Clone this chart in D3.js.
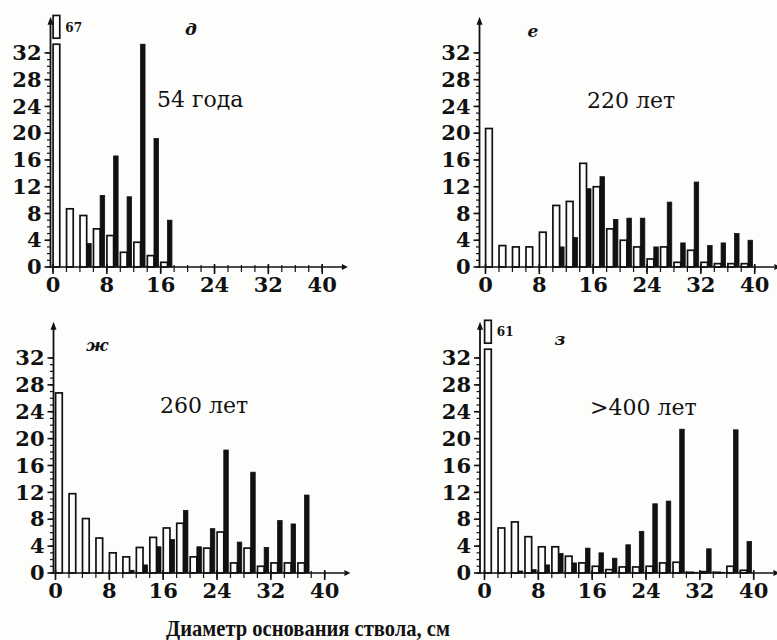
<!DOCTYPE html>
<html>
<head>
<meta charset="utf-8">
<script src="https://cdnjs.cloudflare.com/ajax/libs/d3/7.8.5/d3.min.js"></script>
<style>
  body { margin: 0; background: #fdfdfc; }
  svg { display: block; }
  .tick-label { font-family: "DejaVu Serif", serif; font-weight: bold; font-size: 21px; fill: #111; }
  .age-label { font-family: "DejaVu Serif", serif; font-size: 22px; fill: #111; }
  .panel-letter { font-family: "DejaVu Serif", serif; font-style: italic; font-weight: bold; font-size: 17px; fill: #111; }
  .over-label { font-family: "DejaVu Serif", serif; font-weight: bold; font-size: 12px; fill: #111; }
  .x-title { font-family: "Liberation Serif", serif; font-weight: bold; font-size: 23px; fill: #111; }
</style>
</head>
<body>
<svg id="chart" width="777" height="640"></svg>
<script>
// diameter classes, cm (start of each 2 cm class)
var binStarts = d3.range(0, 40, 2);
var yTickValues = [0, 4, 8, 12, 16, 20, 24, 28, 32];
var xTickValues = [0, 8, 16, 24, 32, 40];

var panelLetters = ['д', 'е', 'ж', 'з'];
var panelAges = ['54 года', '220 лет', '260 лет', '>400 лет'];
var xTitle = 'Диаметр основания ствола, см';

// number of trees per class: open bars (white) and filled bars (black)
var open54 = [67, 8.7, 7.7, 5.7, 4.7, 2.2, 3.7, 1.7, 0.7, 0, 0, 0, 0, 0, 0, 0, 0, 0, 0, 0];
var filled54 = [0, 0, 3.5, 10.7, 16.6, 10.5, 33.5, 19.2, 7, 0, 0, 0, 0, 0, 0, 0, 0, 0, 0, 0];

var open220 = [20.7, 3.2, 3, 3, 5.2, 9.2, 9.8, 15.5, 12, 5.7, 4, 3, 1.2, 3, 0.7, 2.5, 0.7, 0.5, 0.5, 0.5];
var filled220 = [0, 0, 0, 0, 0, 3, 4.4, 11.7, 13.5, 7.1, 7.3, 7.3, 3, 9.7, 3.6, 12.7, 3.2, 3.6, 5, 4];

var open260 = [26.8, 11.8, 8.1, 5.2, 3, 2.4, 3.8, 5.3, 6.7, 7.4, 2.4, 3.7, 6.1, 1.5, 3.7, 1, 1.5, 1.5, 1.5, 0];
var filled260 = [0, 0, 0, 0, 0, 0.4, 1.2, 3.9, 5, 9.3, 3.9, 6.6, 18.3, 4.6, 15, 3.8, 7.8, 7.3, 11.6, 0];

var open400 = [61, 6.7, 7.6, 5.4, 3.9, 3.9, 2.5, 1.5, 1, 0.5, 0.9, 0.9, 1, 1.5, 1.6, 0.1, 0.2, 0.1, 1, 0.4];
var filled400 = [0, 0, 0.3, 0.5, 1.2, 2.9, 1.5, 3.7, 3, 2.2, 4.2, 6.2, 10.3, 10.7, 21.4, 0.1, 3.6, 0.1, 21.3, 4.7];

var HIST = HIST || {};

// one histogram panel: paired open / filled bars per 2 cm class
HIST.Panel = function (userConfig) {
  var defaultConfig = {
    x0: 50,        // pixel of 0 cm
    axisX: 48,     // pixel of the y axis line
    y0: 260,       // pixel of the baseline
    pxPerCm: 6.73,
    pxPerUnit: 6.69,
    cap: 33.3,     // taller bars are broken
    letter: '',
    letterPos: [0, 0],
    age: '',
    agePos: [0, 0],
  };

  var config = Object.assign({}, defaultConfig, userConfig);
  var ink = '#111';

  function my(selection) {
    selection.each(function (d) {
      var g = d3.select(this);

      var x = d3.scaleLinear()
        .domain([0, 40])
        .range([config.x0, config.x0 + 40 * config.pxPerCm]);
      var y = d3.scaleLinear()
        .domain([0, 32])
        .range([config.y0, config.y0 - 32 * config.pxPerUnit]);

      var rows = binStarts.map(function (b, i) {
        return { start: b, open: d.open[i], filled: d.filled[i] };
      });

      // y axis line and arrow head
      g.append('rect')
        .attr('class', 'y-axis-line')
        .attr('x', config.axisX - 0.9).attr('width', 1.8)
        .attr('y', y(36.4)).attr('height', y(0) - y(36.4) + 0.8)
        .style('fill', ink);
      g.append('path')
        .attr('d', 'M' + config.axisX + ',' + (y(37.4)) +
          'L' + (config.axisX - 3) + ',' + y(36.2) +
          'L' + (config.axisX + 3) + ',' + y(36.2) + 'Z')
        .style('fill', ink);

      // y ticks
      g.selectAll('.y-minor').data(d3.range(0, 33, 1))
        .enter().append('rect')
        .attr('class', 'y-minor')
        .attr('x', config.axisX - 3.5).attr('width', 3.5)
        .attr('y', function (v) { return y(v) - 0.6; }).attr('height', 1.2)
        .style('fill', ink);
      g.selectAll('.y-major').data(yTickValues)
        .enter().append('rect')
        .attr('class', 'y-major')
        .attr('x', config.axisX - 6).attr('width', 6)
        .attr('y', function (v) { return y(v) - 0.8; }).attr('height', 1.6)
        .style('fill', ink);

      var majorY = g.append('g').attr('transform', 'translate(' + config.axisX + ',0)')
        .call(d3.axisLeft(y).tickValues(yTickValues).tickSize(6).tickPadding(3));
      majorY.select('.domain').remove();
      majorY.selectAll('.tick line').remove();
      majorY.selectAll('.tick text')
        .attr('class', 'tick-label')
        .attr('font-family', null).attr('font-size', null).attr('fill', null);
      majorY.attr('font-family', null).attr('font-size', null);

      // open bars
      g.selectAll('.open-bar').data(rows.filter(function (r) { return r.open > 0; }))
        .enter().append('rect')
        .attr('class', 'open-bar')
        .attr('x', function (r) { return x(r.start) + 0.6; })
        .attr('width', function (r) { return x(r.start + 1.08) - x(r.start) - 0.6; })
        .attr('y', function (r) { return y(Math.min(r.open, config.cap)); })
        .attr('height', function (r) { return y(0) - y(Math.min(r.open, config.cap)); })
        .attr('fill', '#fdfdfc')
        .attr('stroke', ink)
        .attr('stroke-width', 1.7);

      // filled bars
      g.selectAll('.filled-bar').data(rows.filter(function (r) { return r.filled > 0; }))
        .enter().append('rect')
        .attr('class', 'filled-bar')
        .attr('x', function (r) { return x(r.start + 1.08); })
        .attr('width', function (r) { return x(r.start + 1.75) - x(r.start + 1.08); })
        .attr('y', function (r) { return y(Math.min(r.filled, config.cap)); })
        .attr('height', function (r) { return y(0) - y(Math.min(r.filled, config.cap)); })
        .attr('fill', ink)
        .attr('stroke', ink)
        .attr('stroke-width', 0.8);

      // broken bars: a small box above with the true count
      var broken = rows.filter(function (r) { return r.open > config.cap; });
      g.selectAll('.broken-box').data(broken)
        .enter().append('rect')
        .attr('class', 'broken-box')
        .attr('x', function (r) { return x(r.start) + 0.6; })
        .attr('width', function (r) { return x(r.start + 1.08) - x(r.start) - 0.6; })
        .attr('y', y(37.6))
        .attr('height', y(34.2) - y(37.6))
        .attr('fill', 'none')
        .attr('stroke', ink)
        .attr('stroke-width', 1.7);
      g.selectAll('.over-label').data(broken)
        .enter().append('text')
        .attr('class', 'over-label')
        .attr('x', function (r) { return x(r.start + 1.9); })
        .attr('y', y(35.2))
        .text(function (r) { return r.open; });

      // x axis: line and arrow head
      g.append('line')
        .attr('x1', config.axisX - 0.9).attr('x2', x(43))
        .attr('y1', config.y0).attr('y2', config.y0)
        .attr('stroke', ink).attr('stroke-width', 1.6);
      g.append('path')
        .attr('d', 'M' + (x(43) + 6) + ',' + config.y0 +
          'L' + x(43) + ',' + (config.y0 - 3) +
          'L' + x(43) + ',' + (config.y0 + 3) + 'Z')
        .attr('fill', ink);

      // x ticks
      var minorX = g.append('g').attr('transform', 'translate(0,' + config.y0 + ')')
        .call(d3.axisBottom(x).tickValues(d3.range(0, 41, 2)).tickSize(5).tickFormat(''));
      minorX.select('.domain').remove();
      minorX.selectAll('.tick line').attr('y1', -2).attr('stroke', ink).attr('stroke-width', 1.2);

      var majorX = g.append('g').attr('transform', 'translate(0,' + config.y0 + ')')
        .call(d3.axisBottom(x).tickValues(xTickValues).tickSize(7));
      majorX.select('.domain').remove();
      majorX.selectAll('.tick line').attr('y1', -3).attr('stroke', ink).attr('stroke-width', 1.6);
      majorX.selectAll('.tick text')
        .attr('class', 'tick-label')
        .attr('font-family', null).attr('font-size', null).attr('fill', null)
        .attr('y', 10).attr('dy', '0.71em');
      majorX.attr('font-family', null).attr('font-size', null);

      // panel letter and age label
      g.append('text').attr('class', 'panel-letter')
        .attr('x', config.letterPos[0]).attr('y', config.letterPos[1])
        .attr('text-anchor', 'middle')
        .text(config.letter);
      g.append('text').attr('class', 'age-label')
        .attr('x', config.agePos[0]).attr('y', config.agePos[1])
        .text(config.age);
    });
  }

  return my;
};

var svg = d3.select('#chart');

var panelData = [
  { open: open54, filled: filled54 },
  { open: open220, filled: filled220 },
  { open: open260, filled: filled260 },
  { open: open400, filled: filled400 },
];

var panelLayout = [
  { x0: 52.5, axisX: 50.5, y0: 267, pxPerUnit: 6.69, letterPos: [191, 35], agePos: [157, 107] },
  { x0: 485, axisX: 479.5, y0: 267, pxPerUnit: 6.69, letterPos: [533, 37], agePos: [587, 108] },
  { x0: 55, axisX: 53.5, y0: 573, pxPerUnit: 6.72, letterPos: [97, 351], agePos: [160, 413] },
  { x0: 484, axisX: 480, y0: 573, pxPerUnit: 6.72, letterPos: [560, 345], agePos: [590, 415] },
];

panelData.forEach(function (d, i) {
  var layout = panelLayout[i];
  var panel = HIST.Panel({
    x0: layout.x0,
    axisX: layout.axisX,
    y0: layout.y0,
    pxPerUnit: layout.pxPerUnit,
    letter: panelLetters[i],
    letterPos: layout.letterPos,
    age: panelAges[i],
    agePos: layout.agePos,
  });
  svg.append('g').attr('class', 'panel').datum(d).call(panel);
});

svg.append('text').attr('class', 'x-title')
  .attr('x', 166).attr('y', 636)
  .attr('textLength', 284).attr('lengthAdjust', 'spacingAndGlyphs')
  .text(xTitle);
</script>
</body>
</html>
